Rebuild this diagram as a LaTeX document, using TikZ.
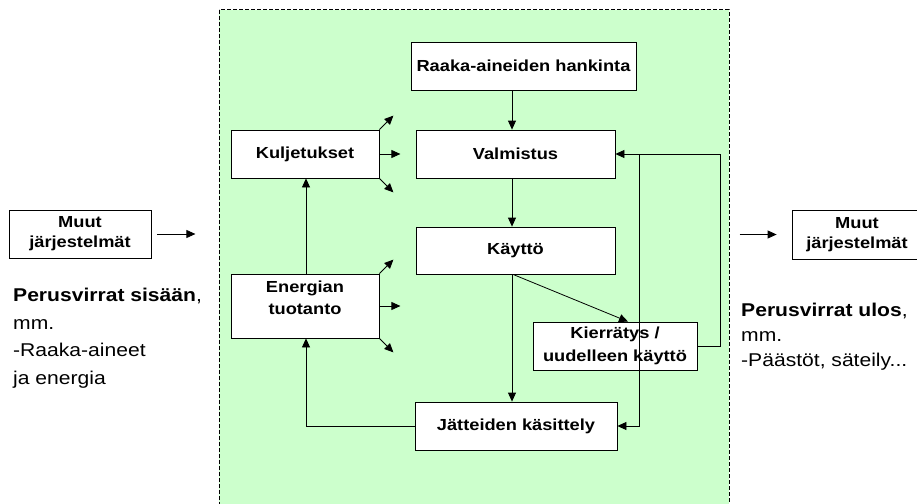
\documentclass[tikz,border=0pt]{standalone}
\usepackage{fontspec}
\setmainfont{Liberation Sans}[FakeStretch=1.14]
\usetikzlibrary{arrows.meta}
\definecolor{bggreen}{RGB}{204,255,204}
\begin{document}
\begin{tikzpicture}[x=1pt,y=-1pt,
  box/.style={draw=black,fill=white,line width=0.8pt,inner sep=0pt,align=center,font=\fontsize{16}{20}\selectfont\bfseries},
  arr/.style={-{Triangle[length=9pt,width=8pt]},line width=0.8pt},
  flowtext/.style={anchor=north west,inner sep=0pt,align=left}]
\clip (0,0) rectangle (917,503);
\useasboundingbox (0,0) rectangle (917,503);
\fill[white] (0,0) rectangle (917,503);
\draw[fill=bggreen,dash pattern=on 4pt off 2pt,line width=1pt] (219,10) rectangle (729,520);
% boxes
\node[box,minimum width=225pt,minimum height=48pt] (raaka) at (523.5,66) {Raaka-aineiden hankinta};
\node[box,minimum width=199pt,minimum height=48pt] (valm) at (515.5,154) {Valmistus};
\node[box,minimum width=199pt,minimum height=47pt] (kaytto) at (515.5,250.5) {Käyttö};
\node[box,minimum width=202pt,minimum height=48pt] (jatt) at (516,426) {Jätteiden käsittely};
\node[box,minimum width=164pt,minimum height=48pt,font=\fontsize{16}{22.5}\selectfont\bfseries] (kierr) at (615,346) {Kierrätys /\\uudelleen käyttö};
\node[box,minimum width=148pt,minimum height=48pt] (kulj) at (305,154) {Kuljetukset};
\node[box,minimum width=148pt,minimum height=64pt,font=\fontsize{16}{22}\selectfont\bfseries] (energ) at (305,306) {Energian\\tuotanto\\[-6pt]\mbox{}};
\node[box,minimum width=142pt,minimum height=48pt] (muutL) at (80,234) {Muut\\järjestelmät};
\node[box,minimum width=130pt,minimum height=49pt] (muutR) at (857,234.5) {Muut\\järjestelmät};
% helper coordinates
\coordinate (cx) at (512,0);
\coordinate (dk) at (628,0);
\coordinate (rx) at (720,0);
\coordinate (vx) at (639,0);
\coordinate (ex) at (306,0);
% connectors
\draw[arr] (raaka.south -| cx) -- (valm.north -| cx);
\draw[arr] (valm.south -| cx) -- (kaytto.north -| cx);
\draw[arr] (kaytto.south -| cx) -- (jatt.north -| cx);
\draw[arr] ([xshift=1pt]kaytto.south -| cx) -- (kierr.north -| dk);
\draw[arr] (kierr.east) -- (kierr.east -| rx) -- (valm.east -| rx) -- (valm.east);
\draw[arr] (valm.east -| vx) -- (jatt.east -| vx) -- (jatt.east);
\draw[arr] (jatt.west) -- (jatt.west -| ex) -- (energ.south -| ex);
\draw[arr] (energ.north -| ex) -- (kulj.south -| ex);
% stub arrows
\draw[arr] (kulj.north east) -- ++(14,-14);
\draw[arr] (kulj.east) -- ++(21,0);
\draw[arr] (kulj.south east) -- ++(14,14);
\draw[arr] (energ.north east) -- ++(14,-14);
\draw[arr] (energ.east) -- ++(21,0);
\draw[arr] (energ.south east) -- ++(14,14);
\draw[arr] ([xshift=6pt]muutL.east) -- ++(38,0);
\draw[arr] ([xshift=-52pt]muutR.west) -- ++(37,0);
% texts
\node[flowtext,font=\fontsize{18.5}{27.5}\selectfont] (inL) at (13,288) {\textbf{Perusvirrat sisään},\\mm.\\-Raaka-aineet\\ja energia};
\node[flowtext,font=\fontsize{18.5}{25}\selectfont] (outR) at (741,303) {\textbf{Perusvirrat ulos},\\mm.\\-Päästöt, säteily...};
\end{tikzpicture}
\end{document}
